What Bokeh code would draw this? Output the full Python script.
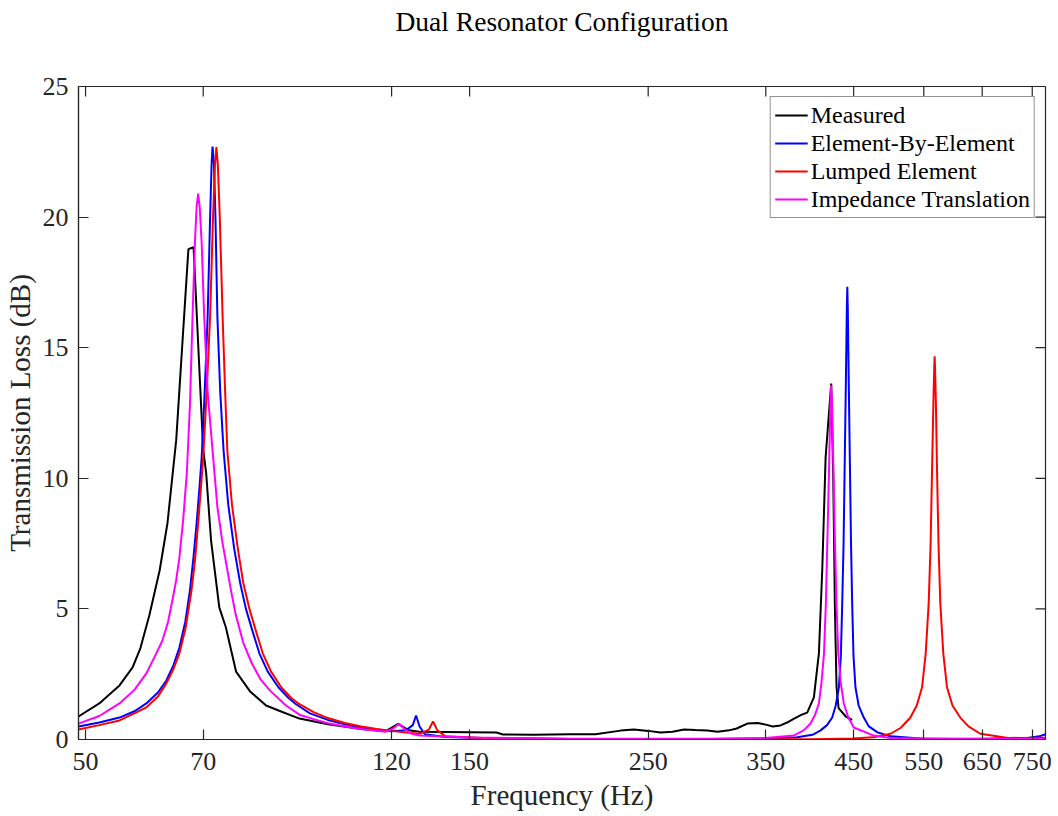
import math
from bokeh.plotting import figure
from bokeh.models import (FixedTicker, Legend, LegendItem, NumeralTickFormatter, Range1d,
                          LogAxis)
from bokeh.embed import file_html
from bokeh.resources import INLINE

# ---------------- data ----------------
title_text = "Dual Resonator Configuration"
x_ticks = [50, 70, 120, 150, 250, 350, 450, 550, 650, 750]
y_ticks = [0, 5, 10, 15, 20, 25]
x_lo, x_hi = 49, 779
y_lo, y_hi = 0, 25

measured_f = [49.0, 52.0, 55.1, 57.2, 58.5, 60.0, 61.8, 63.2, 64.8, 67.1, 68.1, 70.0,
              70.6, 71.6, 73.3, 74.7, 76.9, 80.0, 83.8, 87.0, 92.2, 100, 110, 118,
              122.3, 126, 130, 150, 162, 165, 180, 200, 215, 231, 240, 250, 259, 268,
              277, 286, 296, 305, 315, 322, 332, 342, 350, 357, 365, 372, 379, 388,
              394, 401.6, 407.4, 411.3, 415.3, 422, 424.5, 426.5, 428.5, 431, 440, 448.1]
measured_db = [0.88, 1.38, 2.07, 2.76, 3.5, 4.75, 6.47, 8.28, 11.46, 18.77, 18.85, 11.1,
               10.2, 7.6, 5.06, 4.29, 2.6, 1.85, 1.3, 1.1, 0.8, 0.58, 0.40, 0.32,
               0.60, 0.35, 0.30, 0.28, 0.27, 0.19, 0.18, 0.20, 0.20, 0.34, 0.38, 0.33, 0.27, 0.30,
               0.38, 0.36, 0.34, 0.30, 0.35, 0.42, 0.61, 0.63, 0.57, 0.50, 0.54, 0.65, 0.79, 0.95,
               1.03, 1.61, 3.3, 6.47, 10.8, 13.63, 10.0, 5.0, 2.0, 1.2, 0.88, 0.75]

ebe_f = [49.0, 52.0, 55.1, 57.5, 59.5, 61.5, 63.0, 64.3, 65.4, 66.5, 67.4, 68.1, 68.7,
         69.2, 69.7, 70.3, 70.9, 71.4, 71.7, 71.9, 72.2, 72.5, 72.9, 73.5, 74.2, 75.2,
         76.5, 77.8, 79.1, 80.7, 82.2, 84.2, 86.8, 89.3, 91.3, 95, 100, 105, 110, 115,
         120, 125, 127.5, 128.7, 130, 132, 140, 160, 200, 300, 350, 383, 400, 409, 417,
         423.2, 427.5, 431.4, 433.8, 435.5, 437.2, 438.5, 440, 441.3, 441.9, 442.5, 443.8,
         445.3, 446.6, 448.1, 449.8, 452.3, 456.5, 463.2, 470, 481.3, 500, 550, 650, 740,
         765, 779]
ebe_db = [0.50, 0.65, 0.84, 1.08, 1.38, 1.8, 2.26, 2.85, 3.52, 4.5, 5.71, 7.0, 8.28,
          9.5, 10.8, 13.3, 16.2, 20.0, 22.0, 22.7, 22.0, 20.0, 16.2, 13.3, 11.07, 9.0,
          7.3, 6.0, 5.0, 4.1, 3.3, 2.6, 2.0, 1.6, 1.35, 1.0, 0.75, 0.58, 0.46, 0.38,
          0.32, 0.35, 0.55, 0.92, 0.5, 0.2, 0.1, 0.05, 0.02, 0.02, 0.04, 0.09, 0.18, 0.34, 0.55,
          0.84, 1.3, 2.0, 3.2, 5.2, 7.5, 10.3, 13.5, 16.5, 17.33, 16.5, 13.5,
          10.3, 7.5, 5.2, 3.2, 2.0, 1.3, 0.84, 0.5, 0.28, 0.12, 0.03, 0.03, 0.06,
          0.12, 0.2]

lumped_f = [49.0, 52.0, 55.1, 57.5, 59.5, 61.5, 63.0, 64.3, 65.4, 66.6, 67.7, 68.4, 69.0,
            69.5, 70.0, 70.7, 71.4, 72.0, 72.4, 72.7, 73.0, 73.4, 74.0, 74.5, 75.0, 76.0,
            77.3, 78.5, 79.9, 81.5, 83.0, 85.0, 87.5, 90.0, 92.2, 96, 100, 105, 110, 115,
            120, 125, 130, 133.5, 135.1, 136.8, 140, 160, 200, 300, 400, 450, 480, 500, 515,
            529.3, 539, 547.3, 553, 557.7, 560.8, 563.1, 565.2, 566.6, 567.3, 568.0, 569.4,
            571.2, 573.6, 576.6, 581.5, 587.7, 597, 610.4, 625, 646.5, 700, 779]
lumped_db = [0.38, 0.55, 0.73, 1.0, 1.23, 1.65, 2.15, 2.7, 3.3, 4.3, 5.71, 6.9, 8.28,
             9.5, 10.8, 13.3, 16.2, 20.0, 22.0, 22.68, 22.0, 20.0, 16.2, 13.5, 11.07, 9.0,
             7.3, 6.0, 5.0, 4.1, 3.3, 2.6, 2.0, 1.6, 1.35, 1.05, 0.82, 0.63, 0.5, 0.4,
             0.33, 0.27, 0.22, 0.38, 0.69, 0.35, 0.12, 0.04, 0.02, 0.01, 0.01, 0.04, 0.1, 0.22, 0.45,
             0.84, 1.3, 2.0, 3.3, 5.2, 7.5, 10.3, 12.8, 14.2, 14.67, 14.2, 12.8,
             10.3, 7.5, 5.2, 3.3, 2.0, 1.3, 0.84, 0.5, 0.22, 0.06, 0.07]

imped_f = [49.0, 52.0, 55.1, 57.5, 59.5, 61.0, 62.3, 63.3, 64.1, 64.8, 65.4, 66.1, 66.8,
           67.4, 67.9, 68.4, 68.7, 69.0, 69.3, 69.7, 70.2, 70.9, 71.9, 72.9, 74.0, 74.7,
           75.8, 76.8, 78.5, 80.5, 82.5, 84.7, 88.7, 92.2, 96, 100, 105, 110, 118, 120.5,
           122.6, 124.5, 127, 130, 150, 200, 300, 350, 379, 390, 397.8, 403, 407.4, 410.5,
           413.4, 415.6, 417.5, 419.5, 421, 422, 423, 424.6, 426.4, 428.4, 430.6, 433.6,
           437.5, 443, 450.2, 476.6, 500, 600, 779]
imped_db = [0.61, 0.9, 1.38, 1.9, 2.53, 3.2, 3.79, 4.5, 5.33, 6.1, 6.97, 8.4, 10.2,
            12.8, 16.2, 19.2, 20.4, 20.9, 20.4, 19.0, 16.2, 13.3, 11.07, 8.9, 7.5, 6.8,
            5.7, 4.8, 3.7, 2.9, 2.3, 1.88, 1.3, 0.95, 0.78, 0.62, 0.5, 0.4, 0.3, 0.42,
            0.6, 0.4, 0.22, 0.15, 0.08, 0.03, 0.03, 0.06, 0.15, 0.35, 0.61, 0.95, 1.38, 2.2,
            3.3, 5.2, 7.75, 10.5, 12.8, 13.56, 12.8, 10.5, 7.75, 5.2, 3.3, 2.2,
            1.38, 0.85, 0.46, 0.15, 0.06, 0.02, 0.02]

series = [
    ("Measured", measured_f, measured_db, "#000000"),
    ("Element-By-Element", ebe_f, ebe_db, "#0000FF"),
    ("Lumped Element", lumped_f, lumped_db, "#FF0000"),
    ("Impedance Translation", imped_f, imped_db, "#FF00FF"),
]

# ---------------- figure ----------------
FONT = "Liberation Serif"
AX = "#262626"

p = figure(width=1058, height=816, x_axis_type="log",
           x_range=Range1d(x_lo, x_hi), y_range=Range1d(y_lo, y_hi),
           output_backend="svg", toolbar_location=None,
           min_border_left=77, min_border_right=13, min_border_top=86, min_border_bottom=77)

p.xgrid.visible = False
p.ygrid.visible = False
p.outline_line_color = AX
p.outline_line_width = 1.2
p.background_fill_color = "white"
p.border_fill_color = "white"


def style_axis(ax):
    ax.axis_line_color = AX
    ax.axis_line_width = 1.2
    ax.major_tick_line_color = AX
    ax.major_tick_line_width = 1.2
    ax.major_tick_in = 10
    ax.major_tick_out = 0
    ax.minor_tick_line_color = None
    ax.major_label_text_font = FONT
    ax.major_label_text_color = AX
    ax.major_label_text_font_size = "26px"
    ax.axis_label_text_font = FONT
    ax.axis_label_text_color = AX
    ax.axis_label_text_font_style = "normal"
    ax.axis_label_text_font_size = "29px"


xa = p.xaxis[0]
xa.ticker = FixedTicker(ticks=x_ticks, minor_ticks=[])
xa.formatter = NumeralTickFormatter(format="0")
xa.axis_label = "Frequency (Hz)"
style_axis(xa)
xa.major_label_standoff = 13
xa.axis_label_standoff = 6

ya = p.yaxis[0]
ya.ticker = FixedTicker(ticks=y_ticks, minor_ticks=[])
ya.axis_label = "Transmission Loss (dB)"
style_axis(ya)
ya.major_label_standoff = 10
ya.axis_label_standoff = 4

# title: carried by a tick-less axis above the frame so that it sits near the top of the page
title_axis = LogAxis(ticker=FixedTicker(ticks=[], minor_ticks=[]), axis_label=title_text,
                     axis_line_color=None, major_tick_line_color=None,
                     minor_tick_line_color=None, major_tick_out=0, major_tick_in=0,
                     major_label_standoff=0, axis_label_standoff=50,
                     axis_label_text_font=FONT, axis_label_text_font_size="27.5px",
                     axis_label_text_font_style="normal", axis_label_text_color="#000000")
p.add_layout(title_axis, "above")

# inward tick marks on the top and right edges of the box (half of each dash is clipped)
p.scatter(x_ticks, [y_hi] * len(x_ticks), marker="dash", angle=math.pi / 2, size=20,
          line_color=AX, line_width=1.2)
p.scatter([x_hi] * len(y_ticks), y_ticks, marker="dash", size=20,
          line_color=AX, line_width=1.2)

items = []
for name, f, db, color in series:
    r = p.line(f, db, line_color=color, line_width=2)
    items.append(LegendItem(label=name, renderers=[r]))

leg = Legend(items=items, location="top_right", margin=10, padding=4, spacing=0,
             glyph_width=33, glyph_height=28, label_height=28, label_standoff=3,
             label_text_font=FONT, label_text_font_size="24px", label_text_color="#000000",
             border_line_color=AX, border_line_width=1.2, background_fill_alpha=1.0)
p.add_layout(leg)

open("out.html", "w").write(file_html(p, INLINE))
